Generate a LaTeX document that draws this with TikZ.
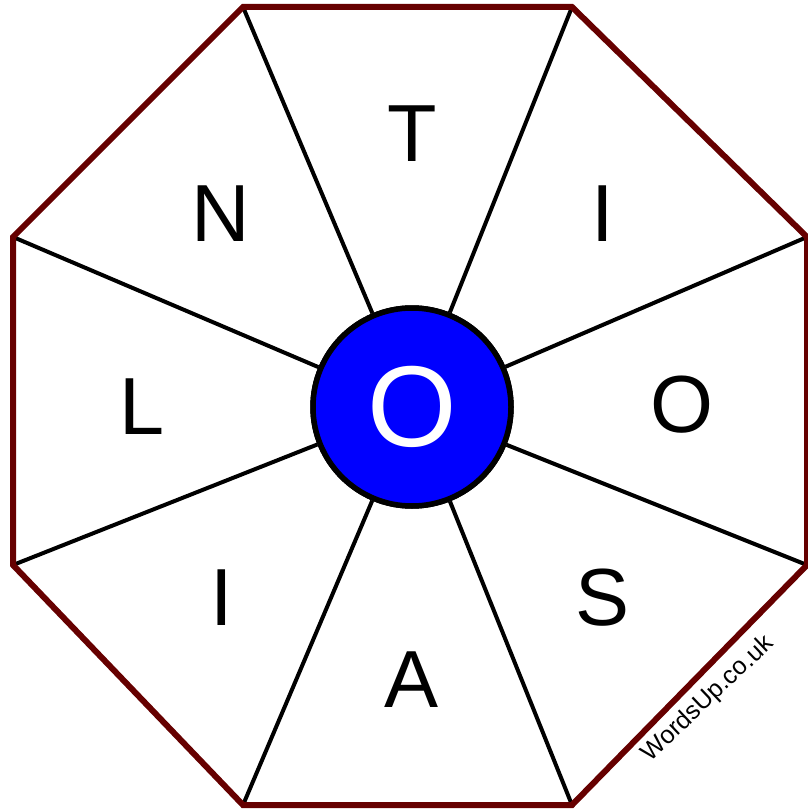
\documentclass[tikz,border=0pt]{standalone}
\usepackage{fontspec}
\setmainfont{Liberation Sans}
\definecolor{octred}{HTML}{660000}
\definecolor{hubblue}{HTML}{0000FF}
\tikzset{
  octline/.style={draw=octred,line width=6pt,line join=miter},
  spoke/.style={draw=black,line width=4pt},
  letter/.style={inner sep=0pt,font=\fontsize{81}{81}\selectfont},
  hub/.style={circle,draw=black,fill=hubblue,line width=5.5pt,minimum size=198pt,inner sep=0pt,text=white,font=\fontsize{115}{115}\selectfont}
}
\begin{document}
\begin{tikzpicture}[x=1pt,y=-1pt]
\useasboundingbox (0,0) rectangle (807,810);
\coordinate (v1) at (243,7);
\coordinate (v2) at (572,7);
\coordinate (v3) at (807,237);
\coordinate (v4) at (807,565);
\coordinate (v5) at (572,805);
\coordinate (v6) at (243,805);
\coordinate (v7) at (13,565);
\coordinate (v8) at (13,237);
\node[hub] (c) at (412,407) {};
\foreach \i in {1,...,8} {\draw[spoke] (c) -- (v\i);}
\draw[octline] (v1) -- (v2) -- (v3) -- (v4) -- (v5) -- (v6) -- (v7) -- (v8) -- cycle;
\node[hub] (hubnode) at (412,407) {O};
\node[letter] (t) at (412,134) {T};
\node[letter] (i1) at (603,214) {I};
\node[letter] (o) at (682,405) {O};
\node[letter] (s) at (603,598) {S};
\node[letter] (a) at (412,680) {A};
\node[letter] (i2) at (222,598) {I};
\node[letter] (l) at (142,407) {L};
\node[letter] (n) at (221,214) {N};
\node[rotate=43.5,inner sep=0pt,font=\fontsize{25}{25}\selectfont] (w) at (708,699) {WordsUp.co.uk};
\end{tikzpicture}
\end{document}
